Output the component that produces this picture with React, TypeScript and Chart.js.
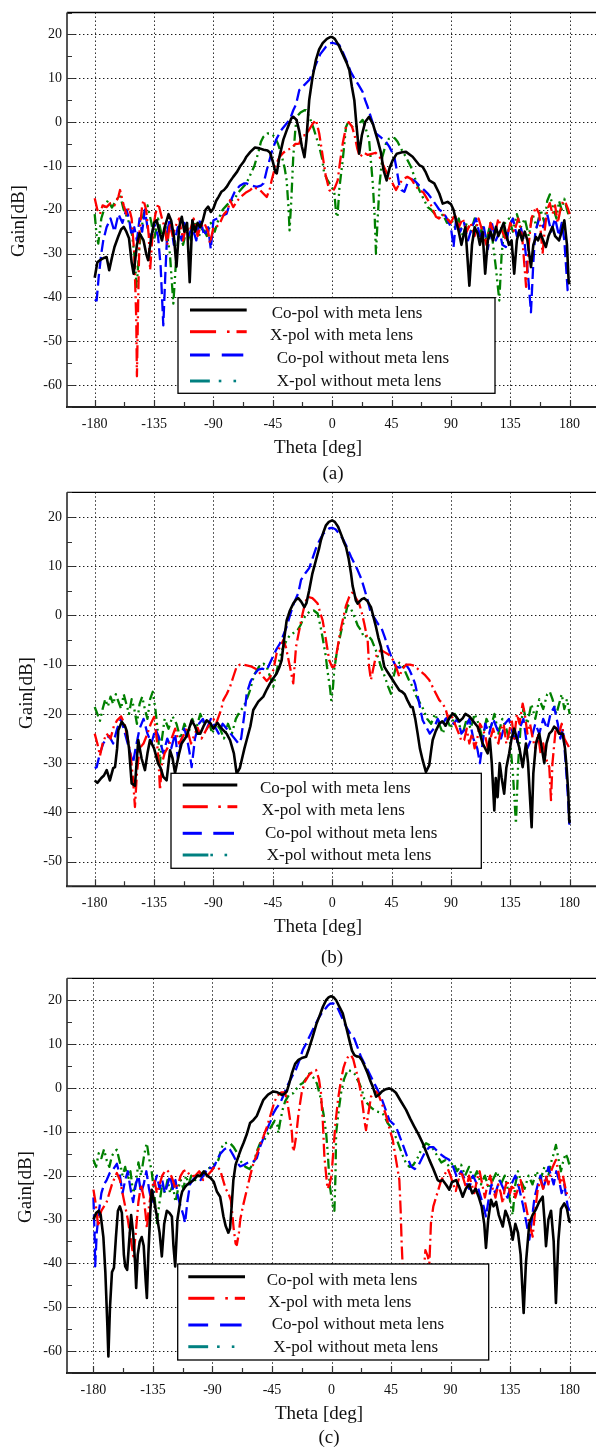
import React, { useEffect, useRef } from 'react';
import { Chart, registerables } from 'chart.js';

Chart.register(...registerables);

type P = [number, number][];

const X_TICKS = [-180, -135, -90, -45, 0, 45, 90, 135, 180];
const Y_TICKS_AC = [-60, -50, -40, -30, -20, -10, 0, 10, 20];
const Y_TICKS_B = [-50, -40, -30, -20, -10, 0, 10, 20];
const LEGEND_LABELS = ['Co-pol with meta lens', 'X-pol with meta lens', ' Co-pol without meta lens', 'X-pol without meta lens'];
const X_TITLE = 'Theta [deg]';
const Y_TITLE = 'Gain[dB]';

// ---------- Panel (a) ----------
const A_CO_WITH: P = [[-180,-35.5],[-178,-32],[-176,-31.5],[-173,-31],[-171,-30.8],[-169,-33.8],[-167,-31],[-165,-28.5],[-162,-26],[-160,-24.5],[-158,-23.9],[-156,-25],[-154,-26.5],[-152,-32],[-150.5,-34.6],[-148,-28],[-146,-25.4],[-143,-27],[-141,-30],[-139.5,-31.5],[-137,-26],[-135,-23],[-133,-22.4],[-131,-25],[-129,-27],[-127,-24],[-124,-21],[-122,-22.5],[-120,-26],[-118,-33],[-116,-24],[-114,-21.6],[-112,-25],[-110,-23],[-108,-36.5],[-106,-22.4],[-104,-25],[-102,-23],[-100,-24],[-98,-22.4],[-96,-20],[-94,-19.3],[-92,-20.5],[-90,-19.7],[-88,-18],[-86,-17],[-84,-15.9],[-82,-15.5],[-80,-14.8],[-78,-13.8],[-75,-12.5],[-72,-11.3],[-70,-10.2],[-67,-9],[-65,-7.9],[-62,-6.8],[-58.5,-5.8],[-55,-6],[-52,-6.3],[-49,-6.5],[-47,-7],[-45,-9],[-43,-11.5],[-42,-11.7],[-40,-8],[-37,-4],[-34,-1.5],[-31,0.8],[-29.5,1.2],[-27,0.5],[-25,-2],[-23,-5.5],[-21,-8],[-19.5,-4],[-17.4,5],[-15,10],[-12.3,14.2],[-10,16.5],[-7.2,18],[-4,19],[-1.5,19.4],[0,19.4],[2,19],[5,17.5],[8,15.5],[11,13.5],[13,11.9],[15,8],[16.8,5],[18.5,-1],[20.5,-7.2],[22.5,-3],[25,0],[28,1.2],[31,-0.5],[34.5,-4.1],[37,-7],[39,-11],[41.3,-13.3],[43.5,-10.5],[45.9,-8.7],[49,-7.2],[53,-6.9],[56,-6.8],[61,-7.9],[66,-9.8],[68.6,-10.2],[71,-11.5],[73.6,-13.3],[77.4,-14],[81.2,-16.3],[83.8,-18.6],[87.5,-18.2],[90,-18.7],[92,-20],[93.8,-22.4],[96,-25],[98,-28],[101,-24],[104,-37.3],[106,-28],[108,-24],[110.3,-25.4],[112,-28],[114,-25],[116,-34.6],[118,-27],[120,-25],[122,-27],[124.2,-23.9],[126,-26],[128,-24.5],[130,-23],[131.7,-25.4],[134,-28],[136,-27],[138,-34.6],[140,-27],[141.8,-24.7],[144,-27],[146,-25],[148,-27],[150.7,-33.1],[152.5,-28],[154.5,-26.2],[156,-27],[158,-25.5],[160,-27],[162,-28.5],[164,-26],[167,-23.9],[169,-26],[172,-27],[174,-25],[176,-22.4],[178,-28],[179.3,-36.5],[180,-37]];
const A_X_WITH: P = [[-180,-17.4],[-178,-20],[-176,-21],[-174,-19],[-171,-19.4],[-168,-18.5],[-165,-19],[-162,-17],[-160.8,-15.5],[-158,-19],[-156,-21],[-154,-19.5],[-152,-22],[-150,-30],[-148.5,-45],[-148,-58],[-147,-40],[-146,-25],[-144,-19],[-143,-17.8],[-141,-20],[-139,-26],[-138,-33.8],[-136,-25],[-134,-21],[-131.8,-18.6],[-129,-22],[-127,-24],[-125,-28],[-123,-23],[-121,-26],[-119,-24],[-116,-22],[-113,-27],[-111,-24],[-108,-25],[-105,-22],[-102,-26],[-100,-24],[-97,-23],[-94,-25],[-92.6,-27.7],[-90,-24],[-88,-24],[-85,-23],[-82,-21],[-79,-20],[-77.4,-17.8],[-75,-19.4],[-72,-18],[-69,-17],[-65,-16],[-62,-15.5],[-59.8,-14.8],[-57,-15.2],[-54.7,-15.5],[-52.2,-16.3],[-49.6,-17.1],[-47,-15],[-45.9,-13.3],[-43,-10],[-40,-8],[-37,-7],[-34.5,-6.4],[-31,-6],[-28,-5],[-25,-4.9],[-22.6,-3],[-20,-3],[-18,-2],[-15,-0.5],[-12.3,0.5],[-9.8,-2.6],[-7.2,-7.7],[-5,-12],[-2.2,-15.5],[0,-16],[2,-15],[4.2,-13.3],[6,-9],[8,-4.9],[10.5,-1.1],[12.5,0],[15,-1],[17,-3],[19,-6],[21,-8],[24,-7],[27,-7.5],[30.7,-7.2],[33,-7],[36,-8],[39,-10],[42,-12],[45,-13.5],[48.4,-15.5],[51,-14],[54,-13],[57,-12.5],[60,-13],[63,-14.5],[66,-15.5],[69,-16],[72,-17.5],[75,-19],[78.7,-21.6],[81,-22],[84,-21],[87,-22],[90,-23],[93,-21],[96,-24],[99,-22],[102,-25],[105,-23],[108,-26],[111,-22],[114,-25],[117,-28],[120,-23],[123,-26],[126,-22],[129,-25],[132,-27],[135,-23],[138,-25],[141,-22],[144,-26],[147,-37.6],[149,-28],[151,-22],[154.5,-19.4],[157,-21],[159.5,-30],[161,-25],[163,-20],[165,-18.5],[167,-21],[169,-19],[171,-23],[173,-20],[175,-18],[177.2,-18.6],[179,-20],[180,-21]];
const A_CO_WITHOUT: P = [[-180,-40.5],[-178.5,-40.7],[-177,-35.4],[-175,-30],[-173.5,-27],[-171,-24],[-168,-22],[-165,-25],[-162,-21],[-159,-23],[-156,-20],[-154,-22],[-152,-26],[-150,-24],[-148,-27],[-146,-22],[-144,-25],[-142,-20],[-140,-24],[-137,-27],[-135,-23],[-132,-26],[-130,-33],[-128,-46.4],[-126.5,-35],[-125,-25],[-123,-22],[-120,-28],[-117,-24],[-114,-27],[-112,-23],[-109,-26],[-106,-24],[-103,-27],[-100,-22],[-97,-26],[-94,-24],[-92,-29],[-90,-22.4],[-87,-22],[-84,-21.5],[-80,-20.9],[-77,-18],[-74,-16],[-70,-14.5],[-67,-14],[-64.8,-14],[-61,-14.5],[-57.2,-14.8],[-54,-14.5],[-52,-14],[-49.6,-11],[-46,-7],[-42.6,-4.1],[-39,-2],[-35,-0.5],[-32,0.6],[-29.5,2.7],[-27.4,4],[-24.9,7.3],[-21,8.5],[-17.4,9.6],[-15,11],[-12.3,13.2],[-9,15.5],[-4.7,17.2],[-2,17.9],[0,18.1],[2.5,17.9],[5.4,17.6],[8,16],[11.7,13.4],[14,11.5],[16.8,10],[20,8.5],[23.1,6.9],[25,5],[26.9,3.5],[30,0.5],[33.2,-2.6],[37,-3.5],[40.8,-4.5],[43.3,-5.6],[47.1,-7.9],[49,-11],[50.9,-14.4],[52.5,-15.5],[54.7,-15.9],[57,-14],[60,-13],[63,-13.5],[66,-14.5],[69.8,-15.5],[73,-16.5],[76.2,-17.8],[79,-19],[81.2,-20],[84,-20.5],[87,-22],[90,-24],[92,-28.5],[94,-22],[97,-25],[100,-23],[103,-27],[106,-24],[109,-22],[112,-26],[115,-24],[118,-29],[121,-23],[124,-27],[127,-25],[129,-28],[131.7,-28.5],[134,-24],[137,-22],[140,-26],[143,-24],[146,-28],[148.5,-35],[150.7,-43.4],[152.5,-32],[154,-25],[157,-22],[160,-24],[163,-21],[166,-25],[169,-22],[172,-26],[174,-23],[176,-27],[178.5,-38.4],[180,-39]];
const A_X_WITHOUT: P = [[-180,-21],[-178.5,-26],[-177.3,-27.7],[-175,-22],[-172,-19],[-169.8,-17.8],[-167,-19.5],[-164,-18],[-160.8,-16.7],[-158,-20],[-155,-22],[-152,-25],[-150,-30],[-148.2,-37.6],[-146,-28],[-143,-21],[-140,-19],[-137,-23],[-135,-27],[-132,-22],[-129,-26],[-126,-24],[-123,-30],[-120.4,-41.4],[-118,-30],[-116,-25],[-113,-28],[-110,-24],[-107,-27],[-104,-23],[-101,-26],[-98,-24],[-95,-26],[-92,-23],[-89,-25],[-86,-22],[-83,-20],[-80,-19],[-77,-18],[-74,-17.5],[-71,-16],[-68,-15],[-65,-14],[-62,-12],[-59,-10],[-56,-7],[-54,-4.5],[-52.2,-3.4],[-49,-2.6],[-47.1,-2.6],[-45,-3],[-43.4,-3.4],[-41,-5],[-38,-8],[-36,-10.5],[-34.5,-13.3],[-33,-20],[-32.3,-24.7],[-31,-18],[-29.5,-8],[-28,-2],[-26.9,1.2],[-24,2.2],[-21,2.7],[-19.8,2.7],[-17,1],[-14,-1.5],[-12,-3.5],[-9.8,-5.6],[-7.5,-8.5],[-6.2,-11.4],[-4,-13],[-2,-14],[0,-15],[1.6,-15.9],[3,-20.8],[4,-21.7],[5.5,-15],[8,-8.7],[10.5,-1.1],[11.7,-0.3],[14,-0.8],[17,-1.5],[20,-0.5],[23.1,0.5],[25.5,-1.5],[28,-4.1],[30.8,-14],[32.3,-22],[33.2,-30],[34.5,-22],[36,-14],[38,-8],[40.8,-4.9],[43,-3.8],[45.9,-3.5],[47.5,-3.7],[49.6,-4.5],[53,-6.5],[56,-8],[59.7,-10.2],[63,-13],[66,-15.5],[68.6,-17.1],[72.4,-19.4],[75,-20],[78,-21],[81,-22],[84,-21],[87,-23],[90,-22],[93,-24],[96,-22],[99,-26],[102,-23],[105,-25],[108,-22],[111,-26],[114,-24],[117,-27],[120,-23],[122,-28],[124,-33],[126.7,-40.7],[128.5,-30],[131,-23],[134,-22],[137,-25],[140,-21],[143,-24],[146,-22],[149,-26],[152,-21],[155,-24],[158,-20],[161,-23],[163,-18],[165,-16.5],[167,-19],[170,-22],[172,-18],[174,-20],[176,-17.5],[178,-20],[180,-22]];

// ---------- Panel (b) ----------
const B_CO_WITH: P = [[-180,-33.5],[-178,-34],[-175,-33],[-173,-32.5],[-170.9,-31.4],[-168.5,-33.5],[-166,-31],[-164.6,-30.8],[-163,-27],[-162.1,-23.3],[-159.5,-21.6],[-157,-22.5],[-155.7,-23.5],[-154,-27],[-152,-34.1],[-149.5,-34.6],[-147,-25.3],[-144.5,-29],[-141.9,-31.4],[-140,-28],[-138.1,-25.3],[-135,-27],[-132,-30],[-130,-31],[-128,-32.8],[-125.5,-33.5],[-122.9,-27.4],[-121,-29],[-119.1,-32],[-116,-28],[-114.1,-26],[-110.3,-24.5],[-106.5,-21.3],[-104,-22.5],[-102,-24],[-100,-24],[-97.5,-22.5],[-95.1,-21.3],[-92,-22],[-90,-23],[-87,-21.8],[-83.7,-23],[-80,-24],[-77.4,-25.3],[-74.5,-28],[-72.4,-32.1],[-70,-31],[-68.6,-29.4],[-66.5,-27],[-64.8,-25.3],[-62,-22.5],[-59.8,-19.2],[-56,-17.5],[-52.2,-16.5],[-49.5,-15],[-47.1,-13.8],[-44.5,-12.7],[-42.1,-11.8],[-40,-10.5],[-38.3,-9.1],[-36.5,-5],[-34.5,-1],[-32,1],[-29.5,2.4],[-27.4,3.2],[-25.7,3.5],[-23.5,2.8],[-21.1,1.7],[-19.5,2.5],[-17.4,5.1],[-15,8.5],[-12.3,11.2],[-10,13.5],[-8.5,15.3],[-6.5,17],[-4.7,18.3],[-2.5,19],[0,19.3],[2,19],[4.5,18],[7,16.3],[9,14.8],[10.5,13.9],[12.5,11.5],[14.3,8.5],[15.5,6],[16.8,4.5],[18,3],[19.3,2.4],[21,2.9],[22.5,3.3],[24.3,3.5],[26.5,3],[29.4,1.7],[31,0],[33.2,-2.3],[35,-4.5],[37,-6.4],[38.5,-9],[39.5,-10.4],[42,-11.5],[45.9,-13.1],[48,-14],[50.9,-15.2],[53,-15.5],[55,-16],[57,-17.2],[59.7,-18.6],[61,-18.6],[63,-21],[64.8,-24],[66.5,-27],[68.6,-29.4],[71.1,-31.8],[73.6,-30.4],[75,-27.5],[76.2,-25.3],[78.5,-23.5],[81.2,-22],[83.5,-21.5],[86,-22.4],[88.5,-21],[91.3,-19.9],[94,-20.5],[96.5,-21.5],[98.9,-20.9],[101,-20],[104,-20.5],[107,-21.5],[110.3,-22.6],[112,-24],[114,-26],[116,-27],[117.9,-28],[119.5,-25],[121,-30],[122.9,-39.6],[124,-33],[125.4,-36.9],[127,-30],[128.5,-33],[130.4,-36.2],[132,-31],[134.2,-28],[136,-25],[138,-23],[140,-25],[142,-27],[144.4,-30.8],[146.9,-26],[148.5,-30],[151.2,-43],[152.5,-32],[154.5,-26],[157,-24],[159,-27],[160.8,-30],[162.5,-26],[164.6,-24],[166.5,-23.5],[168.3,-22.6],[170,-23],[172,-24],[174.7,-24],[176.5,-27],[177.7,-30.8],[179,-36],[179.7,-41.6],[180,-42]];
const B_X_WITH: P = [[-180,-24],[-178,-26],[-176,-28.5],[-174,-26],[-171,-24],[-168,-25],[-165.5,-22.5],[-163,-21.3],[-160,-20.5],[-157.5,-22],[-155,-25],[-153,-28],[-151,-33],[-149.5,-38.9],[-148,-32],[-146,-27],[-143,-26],[-140,-24],[-137.5,-22],[-135,-20.6],[-133,-25],[-131.5,-30],[-130.5,-35.5],[-129,-30],[-127,-28],[-125,-27],[-122.4,-25.5],[-119,-23],[-116,-26],[-113,-24.5],[-110,-23],[-107,-26],[-104,-24],[-102,-22.8],[-99,-25],[-97,-24],[-95,-23],[-92.5,-22],[-90,-21],[-88,-22],[-86,-20.5],[-84,-19],[-82.5,-17.2],[-80,-16],[-77.4,-14.5],[-75,-12.5],[-72.4,-10.4],[-70,-10],[-67,-10],[-64,-10.2],[-61,-10.4],[-57,-11],[-54.5,-11.8],[-52.2,-12.5],[-49.6,-13.3],[-47,-12.5],[-44.6,-11.1],[-42.1,-7.7],[-39.6,-6.4],[-37,-5],[-35,-6.5],[-33.5,-8.5],[-32,-10.4],[-29.5,-13.8],[-27.4,-6.4],[-25.7,-4],[-22.4,0.4],[-20.5,2.5],[-18.6,3.8],[-15,3.5],[-13,3],[-11,2.4],[-9,0.5],[-7.2,-1],[-4.7,-5],[-2.2,-9.1],[0,-10.5],[1.6,-10.4],[4.2,-6.4],[6,-3.5],[8,-1],[10.5,2],[13,3.8],[15,4.6],[16,4.5],[18,3.5],[20.5,2.4],[22.5,0.5],[24.3,-1.6],[26.9,-5],[28,-10.4],[29.4,-13.1],[31,-11],[33,-8.5],[34.5,-7.7],[37,-7],[40,-7.5],[43,-8],[46,-9],[48.5,-10.5],[50.9,-12.5],[53,-11],[56,-10],[59,-10],[62,-10.2],[66,-11.1],[70,-12],[73.6,-13.1],[77,-15],[81.2,-17.2],[83.8,-17.9],[86,-19],[88,-21],[90,-20],[93,-22],[96,-24],[98,-25.5],[100.1,-25.3],[102,-23],[104,-26],[106,-24],[108,-27],[110,-25],[112,-22],[114,-23],[116,-24.4],[118,-27],[120,-25],[122,-23],[124,-25],[126,-26],[128,-23],[130,-22],[132,-26],[134,-24],[136,-21],[138,-25],[140,-20],[142,-22],[144.4,-17.9],[146,-20],[148,-24],[150,-22],[152,-25],[154,-27],[156,-24],[158,-28],[160,-26],[162,-29],[164.6,-30.8],[165.9,-37.5],[167,-30],[169.6,-22.6],[172,-24],[174,-22],[176,-25],[178,-26],[180,-27]];
const B_CO_WITHOUT: P = [[-180,-31],[-178.5,-30.8],[-176,-28],[-173.5,-26],[-171,-25],[-169,-24.5],[-166,-26],[-163,-23],[-160,-21],[-157,-24],[-155,-26],[-153,-28],[-151,-30],[-149,-27],[-146,-23],[-143,-21],[-140,-24],[-137,-26],[-134,-23],[-131,-25],[-128,-28],[-125,-25],[-122,-27],[-119,-24],[-117,-29],[-115,-26],[-112,-23],[-110,-25],[-108,-28],[-106.5,-30.8],[-104,-25],[-101,-22],[-98,-21],[-95,-23],[-92,-21],[-89,-22.5],[-86,-24],[-83,-22],[-80,-23],[-77,-24],[-74,-25],[-71,-26],[-69,-25],[-67,-21],[-66,-19],[-64.8,-15.9],[-62,-13.5],[-59,-12],[-56,-11],[-53,-10.8],[-49.6,-11.1],[-46,-9],[-42.5,-7],[-39.6,-5.7],[-37,-4],[-34.5,-2.3],[-32,0],[-29,2.5],[-25.7,4.5],[-23.6,7.2],[-20.5,8.5],[-17.4,9.6],[-15,11.5],[-12.3,13.6],[-10,15],[-7,16.5],[-4,17.3],[-2,17.7],[0,17.8],[2.5,17.5],[5,16.7],[8,15.6],[11,14],[14.3,11.9],[17,10.5],[19.3,9.2],[22,7.5],[24.3,5.5],[27,3],[29.4,0.4],[32,-0.5],[35,-1.8],[37,-2.3],[40,-4.5],[42.1,-6.4],[45,-8.5],[48.4,-10.4],[51,-10.6],[53.4,-10.4],[56,-10],[58.5,-11],[61,-12.5],[63,-14],[66,-17.9],[68.6,-21.3],[71,-22.5],[74,-24],[77,-23],[80,-21],[83,-22.5],[86,-21],[89,-20.5],[92,-22],[95,-21],[98,-24],[101,-23],[104,-21],[107,-25],[110,-27],[112,-30],[114,-26],[116,-22],[119,-24],[122,-21],[125,-23],[128,-25],[131,-22],[134,-21],[137,-24],[140,-26],[142,-23],[145,-21],[148,-27],[151,-25],[154,-22],[157,-24],[160,-21],[163,-23],[165.5,-20],[168.3,-18.6],[171,-22],[173,-25],[175,-23],[177,-30],[179,-38],[179.7,-42.3],[180,-42]];
const B_X_WITHOUT: P = [[-180,-18.6],[-178,-20],[-176,-21.4],[-174,-19],[-172,-17],[-170,-18.5],[-168,-16.5],[-166,-18],[-164,-16],[-162,-17.5],[-160,-19],[-158,-16],[-156,-18],[-154,-20],[-152,-17],[-150,-19],[-148,-22],[-146,-18],[-144,-16.5],[-142,-19],[-140,-21],[-138,-17],[-136,-15.5],[-134,-19],[-132,-24],[-130.5,-30.1],[-129,-25],[-127,-21],[-124,-23],[-121,-20.5],[-118,-22],[-115,-25],[-112,-22],[-109,-24],[-106,-21],[-103,-23],[-100,-20],[-97,-22],[-94,-21],[-91,-24],[-88,-22],[-85,-23],[-82,-25],[-79,-22],[-76,-24],[-73,-21],[-70,-19.5],[-67,-18.5],[-64,-16.5],[-62.3,-15.2],[-59,-12],[-55,-10.2],[-52,-9.8],[-49.6,-10.4],[-47,-12.5],[-44.6,-14.5],[-41,-10],[-38,-7],[-34.5,-5],[-32,-4],[-29,-3.5],[-26.2,-3],[-24,-2],[-22.4,-1],[-20,0],[-17,0.8],[-14,1],[-11,0.4],[-9,-2],[-7.2,-4.6],[-5,-8],[-3.4,-11.5],[-1.5,-15],[-0.7,-17.2],[0.5,-15],[1.6,-11],[3.5,-7.5],[5.4,-5],[7,-3],[9.1,-1],[11.7,2.1],[14,1.5],[16.5,0],[19.3,-2],[21.8,-3],[24.3,-4.5],[27,-4],[30,-5],[33,-7],[37,-10.4],[40,-12.5],[42.5,-14.5],[44.6,-15.9],[46.5,-12.5],[48.4,-10.4],[50.9,-9.6],[53,-10],[55.5,-11.5],[58,-13],[61,-14.5],[63,-16],[66,-17.5],[69,-19],[72,-21],[75,-22],[78,-20],[81,-22],[84,-24],[87,-21],[90,-23],[93,-20],[96,-22],[99,-24],[102,-21],[105,-23],[108,-20],[111,-22],[114,-25],[117,-21],[120,-23],[123,-20],[126,-24],[129,-21],[132,-23],[135,-26],[137,-32],[139.3,-42.3],[141,-30],[143,-22],[145,-19],[148,-22],[151,-18],[154,-21],[157,-17],[160,-19],[163,-16],[165,-15.5],[167,-17],[170,-20],[172,-18],[174,-16],[176,-19],[178,-17],[180,-20]];

// ---------- Panel (c) ----------
const C_CO_WITH: P = [[-180,-30],[-178,-28.5],[-176,-28],[-174.5,-29],[-172.5,-34],[-171,-42],[-169.5,-54],[-168.7,-61.2],[-167.5,-50],[-166,-42],[-164.5,-41],[-163,-34],[-161.5,-28],[-160,-27],[-158.5,-28.5],[-157,-38],[-156,-40.7],[-154.5,-41.5],[-153,-35],[-151.5,-29],[-150,-33],[-148.5,-40],[-147.7,-45.6],[-146.5,-38],[-145,-35],[-143.5,-34],[-142,-36],[-140.5,-44],[-139.6,-47.9],[-138.5,-38],[-137,-28],[-135.9,-23.2],[-134,-26],[-132,-29.3],[-130,-33],[-128.3,-38.4],[-126.5,-31],[-124.5,-28],[-122.5,-28.5],[-120.7,-29.3],[-119.5,-36],[-118.2,-40.7],[-116.5,-30],[-114,-25],[-112.9,-23.6],[-110.5,-22.5],[-109,-22],[-106.5,-21.5],[-104,-21],[-101.5,-20],[-99,-20.1],[-96.5,-19],[-94,-20],[-91.5,-20.5],[-89,-21.4],[-86.7,-23.6],[-84.2,-24.8],[-81.7,-29.3],[-80,-31.5],[-78,-33],[-76.7,-32],[-75.5,-27],[-74.2,-21],[-72.5,-17.5],[-70.4,-15.6],[-68.5,-14],[-66.6,-12.6],[-64,-10.5],[-61.6,-8],[-59,-7.3],[-56.5,-6.4],[-54,-4.5],[-51.5,-2.7],[-48,-1.5],[-44,-0.8],[-41,-1],[-39,-1.3],[-37.6,-1.6],[-35.5,-1.3],[-33.8,-0.8],[-32,1],[-30,3.3],[-27.5,5.5],[-25,6.4],[-22.5,6.8],[-19.2,7.1],[-17,9],[-14.2,11.7],[-11.5,14.5],[-9.3,16.2],[-6.5,18.5],[-4.1,20],[-2,20.7],[-0.3,20.9],[1.5,20.7],[3.5,20],[6,18.5],[8.5,17],[11,14],[13.5,10.9],[15.5,8.5],[17.3,7.5],[19,7.2],[21,7.1],[23,6.3],[25,5],[27.4,3.3],[29.5,1.5],[31.2,0.3],[33.7,-2],[36,-1.5],[38.2,-0.8],[41,-0.3],[43.7,-0.1],[46,-0.4],[48.7,-1.1],[52,-2.8],[56.4,-5],[59.5,-7],[62.6,-8.8],[66,-10.7],[69,-12.6],[71.5,-14.5],[74,-16.4],[77,-18.5],[80.3,-21],[82,-21.3],[84,-21],[86.5,-22],[89.1,-23.2],[91,-21.5],[94.2,-21],[96.5,-22.5],[99.2,-24.8],[101.5,-23],[104,-22],[106.5,-24],[109,-23],[111.5,-25],[113.5,-27],[115.5,-31],[116.8,-36.5],[118.5,-30],[120.6,-25.5],[122.5,-27],[124.5,-26],[126.5,-29],[129.5,-31.6],[131.5,-28],[133.5,-29.5],[135.5,-32],[137,-34.6],[139,-31],[141,-33],[143,-38],[145.3,-51.3],[147,-40],[149.6,-30.8],[152,-29],[154.7,-27.6],[157,-26],[159.7,-24.8],[161,-30],[162.2,-36.1],[164,-30],[166,-28],[168,-35],[169.7,-49],[171.5,-35],[173.5,-27.6],[176,-26.3],[178,-27.5],[179.8,-30.4],[180,-30.5]];
const C_X_WITH: P = [[-180,-23.2],[-178.5,-26],[-177,-30],[-176.2,-31.6],[-175,-29],[-174,-28],[-172,-27],[-170,-26],[-168,-24],[-166,-22],[-164,-20.5],[-162.3,-19.4],[-160,-21],[-158,-24],[-156,-27],[-154,-30],[-152,-34],[-150.5,-37],[-149.8,-38.4],[-148,-33],[-146,-26],[-144,-22],[-142,-25],[-140.5,-29],[-139.6,-32],[-138,-27],[-136,-23],[-134,-21],[-132,-24],[-130,-22],[-128,-20],[-126,-19],[-124.5,-18.7],[-122,-19.5],[-120,-21],[-118,-23],[-116,-22],[-114,-20],[-112,-19],[-110,-18.7],[-108,-19.5],[-106,-20.2],[-103,-20],[-100,-19],[-97,-21],[-94,-20],[-91,-19],[-89,-18.2],[-86.5,-18],[-84.2,-18.7],[-82,-21],[-80,-23],[-78,-24],[-76,-25.7],[-74,-32],[-72.5,-35.5],[-71.6,-35.8],[-70,-33],[-69,-30],[-67,-27],[-64,-23.2],[-61.5,-20],[-59,-17.2],[-57,-15.5],[-55.3,-14.1],[-53.5,-12.5],[-51.5,-11.1],[-49,-9],[-46.4,-6.5],[-43,-3],[-40,-1.5],[-38,-1],[-36,-1],[-35,-1.2],[-33.5,-3],[-31.3,-7.3],[-30,-10],[-29,-14.5],[-28,-13.5],[-26.8,-11.1],[-25,-6],[-22.5,-1],[-20,1.5],[-17,3],[-14,3.8],[-11.7,4.1],[-9.5,2],[-8,-1],[-6.5,-8],[-5.4,-15.6],[-4,-20],[-3,-23],[-1.5,-22],[0,-20],[1.5,-14],[3,-8],[5,-2.5],[7,1.5],[9,4.5],[11,6.4],[13,7.3],[14.8,7.5],[16.5,6.5],[18.5,4],[19.9,2.6],[22.4,-1.4],[24,-5],[24.8,-7.3],[26.1,-9.6],[27.5,-6.5],[29.9,-2],[32,-1],[33.7,-0.8],[35.5,-1.5],[38,-3.5],[41,-6],[44,-9.5],[46.3,-11.8],[48.8,-16.4],[51.3,-21],[52.3,-28],[53,-35],[54,-42],[56,-50],[60,-55],[64,-53],[67,-48],[69.5,-43],[71,-37],[72.8,-38.4],[74,-40],[75.2,-30.8],[77,-27],[79,-25],[81,-23],[83,-21],[86,-19.5],[88,-18.5],[90,-20],[92,-22],[94,-23.5],[96,-21],[98,-19],[100,-21],[102,-23],[104,-20],[106,-22],[108,-24],[110,-21],[112,-19],[114,-22],[116,-25],[118,-22],[120,-20],[122,-23],[124,-25],[126,-22],[128,-24],[129.5,-26.3],[131,-23],[133,-21],[135,-24],[137,-22],[139,-25],[141,-23],[143,-21],[145,-24],[147,-27],[149,-30],[150.5,-32],[152.1,-33.9],[154,-28],[156,-23],[158,-21],[160,-23],[162,-20],[164,-22],[166,-19],[168,-17.5],[169.7,-16.4],[171.5,-19],[173,-22],[175,-20],[177,-23],[178.6,-24.8],[180,-25]];
const C_CO_WITHOUT: P = [[-180,-25],[-179,-35],[-178.7,-40.7],[-177.5,-33],[-176,-28.5],[-174,-24],[-172,-22],[-170,-21],[-167.7,-19.4],[-165,-18.5],[-162.3,-17.3],[-160,-20],[-158,-24],[-156,-21],[-154,-19],[-152,-23],[-150,-26],[-148,-22],[-146,-20],[-144,-24],[-142,-22],[-140,-19],[-138,-23],[-136,-26],[-134,-22],[-132,-20],[-130,-23],[-128,-21],[-126,-24],[-124,-22],[-122,-20],[-120,-23],[-118,-21],[-116,-25],[-114,-27],[-112,-29],[-110.7,-30.8],[-109,-26],[-107,-22],[-105,-21],[-102,-20],[-99,-21],[-96,-19.5],[-93,-18],[-90,-18.5],[-88,-17.5],[-86.7,-16.4],[-84,-15],[-81,-14],[-78.5,-13.5],[-76.7,-14.1],[-74,-15.5],[-71.5,-17],[-69,-17.9],[-66,-17.5],[-63,-17],[-60,-17],[-58,-16.5],[-56.5,-16],[-54,-13.4],[-51.5,-11.5],[-49,-9.6],[-46,-7.5],[-44,-5.8],[-41.5,-4.5],[-38.9,-3.5],[-36,-1.5],[-33.8,0.3],[-30,2.5],[-26.5,4.5],[-24,6.5],[-21.7,8.7],[-19,10.2],[-16.7,11.7],[-13,14],[-10,15.8],[-7.5,17],[-5.4,17.8],[-3,18.7],[-1,19.2],[1,19.3],[3,19],[5,18],[8,16],[11,14],[14,12.5],[17.3,11.2],[20,9],[22.3,7.1],[25,5.5],[27.4,4.1],[30,2.5],[32.3,1.1],[35,-0.5],[38,-2.5],[41,-5],[43.7,-7.3],[46,-8],[48.7,-8.8],[51.5,-11],[54,-13],[57,-15.5],[60.1,-17.9],[63,-18.5],[66,-17.5],[68.5,-16],[71,-14.5],[74,-13.5],[77,-13.5],[79,-14.1],[82,-15],[85.5,-15.8],[89,-16.4],[92,-18],[95,-20.5],[98,-19],[101,-21],[104,-23],[107,-20],[110,-22],[113,-25],[115,-27],[116.8,-29.3],[118.5,-26],[121,-22],[124,-24],[127,-21],[130,-23],[133,-25],[136,-22],[139,-20],[142,-23],[145,-27],[147.5,-31],[149.6,-34.6],[151.5,-30],[153.5,-25],[156,-22],[158,-20],[160,-23],[162,-21],[164,-18],[166,-20],[168,-22],[170,-19],[172,-21],[174,-24],[176,-22],[178.6,-27],[180,-28]];
const C_X_WITHOUT: P = [[-180,-16.4],[-178,-18],[-176,-14.9],[-174,-16],[-172,-14],[-170,-16.5],[-168,-18],[-166,-15.5],[-164,-14.5],[-162.3,-14.1],[-160,-17],[-158,-20],[-156,-18],[-154,-21],[-152,-19],[-150,-24],[-148,-22],[-146,-17],[-144,-20],[-142,-16],[-140.5,-13.5],[-139.6,-12.6],[-138,-16],[-136,-19],[-134,-24],[-132.1,-30.8],[-130,-26],[-128,-22],[-126,-24],[-124,-21],[-122,-24],[-120,-22],[-118,-26],[-116,-23],[-114,-21],[-112,-23],[-110,-20],[-108,-22],[-106,-20],[-103,-21],[-100,-19],[-97,-20],[-94,-18.5],[-91,-18],[-90,-17.8],[-87.5,-17],[-85.5,-16.4],[-83.5,-14],[-81.7,-12.7],[-79,-12.5],[-76.7,-12.6],[-74,-13.5],[-71,-15],[-68,-17],[-65,-18],[-62,-18.5],[-59,-17.2],[-56.5,-14.5],[-54,-12.6],[-51.5,-12],[-49,-11.1],[-46,-9],[-43,-7.5],[-41,-8.5],[-40.2,-10.3],[-39,-8],[-37,-5],[-35,-3],[-32,-1.5],[-28.8,-1.2],[-26,0],[-23.5,0.8],[-21.7,1.1],[-19,2.2],[-16.7,3.3],[-14,2.5],[-11,1],[-8.5,-2],[-6,-6],[-4,-10.5],[-2.8,-14.9],[-1.4,-22],[0,-25],[1,-27],[2.2,-28],[3,-20],[3.5,-10.3],[5.5,-5],[7.2,-1.2],[9.5,2],[12.3,4.1],[15,3.8],[17.3,3.3],[19,2.2],[21,1.1],[23,-0.5],[24.8,-2.5],[27,-3.5],[30,-4.5],[33.5,-5.3],[36,-5.5],[38.7,-5.8],[40.5,-6.8],[42.4,-8],[44.5,-8.8],[46.3,-9.6],[49,-11.5],[51.3,-13.4],[54,-15.5],[56.4,-17.2],[59,-18],[62,-17.5],[65,-16],[68,-14],[71.5,-12.6],[74,-13],[77,-14],[80,-15.5],[83,-17],[86,-16.5],[89,-18],[92,-17],[95,-19],[98,-17.5],[101,-20],[104,-18],[107,-21],[110,-19],[113,-22],[116,-20],[119,-23],[122,-21],[125,-19],[128,-22],[131,-20],[134,-24],[137,-29],[139,-22],[141,-19],[143,-21],[146,-23],[149,-20],[152,-22],[155,-19],[158,-21],[161,-18],[164,-20],[166,-17],[168,-15],[169.7,-13],[171.5,-16],[173.5,-19],[175,-17],[177,-15],[178.5,-16],[179.8,-17.5],[180,-17.5]];

const SERIF = '"Liberation Serif", "Times New Roman", "DejaVu Serif", serif';

type Legend = { box: number[]; x0: number; x1: number; lineY: number[]; textX: number[]; textY: number[]; tealDash: number };
type Cfg = {
  name: string; top: number; h: number; padTop: number; bottom: number; left: number;
  xMin: number; xMax: number; yMin: number; yMax: number; yTicks: number[];
  yTitle: number[]; xTitle: number[]; caption: string; capPos: number[];
  legend: Legend; series: P[];
};

const STYLES = [
  { color: '#000000', width: 2.6, dash: [] as number[] },
  { color: '#ff0000', width: 2.3, dash: [13, 4, 2, 4] },
  { color: '#0000ff', width: 2.3, dash: [12, 5] },
  { color: '#008000', width: 2.3, dash: [10, 4, 2, 4, 2, 4] },
];

const PANELS: Cfg[] = [
  {
    name: 'a', top: 0, h: 487, padTop: 12.5, bottom: 407, left: 67,
    xMin: -201, xMax: 200, yMin: -65, yMax: 25, yTicks: Y_TICKS_AC,
    yTitle: [19, 221], xTitle: [318, 448.5], caption: '(a)', capPos: [333, 474],
    legend: { box: [178, 297.7, 495, 393.3], x0: 190, x1: 246.7, lineY: [310, 331.7, 355, 381], textX: [271.7, 270, 276.7, 276.7], textY: [318, 340, 363.3, 385.7], tealDash: 0.35 },
    series: [A_CO_WITH, A_X_WITH, A_CO_WITHOUT, A_X_WITHOUT],
  },
  {
    name: 'b', top: 487, h: 483, padTop: 5.3, bottom: 399.3, left: 67,
    xMin: -201, xMax: 200, yMin: -55, yMax: 25, yTicks: Y_TICKS_B,
    yTitle: [27, 206], xTitle: [318, 440.5], caption: '(b)', capPos: [332, 471],
    legend: { box: [171, 286.3, 481.3, 381.3], x0: 182.7, x1: 237.3, lineY: [298, 319.7, 346.3, 368], textX: [260, 261.7, 265, 266.7], textY: [306.3, 328, 351.3, 373], tealDash: 0.47 },
    series: [B_CO_WITH, B_X_WITH, B_CO_WITHOUT, B_X_WITHOUT],
  },
  {
    name: 'c', top: 970, h: 478, padTop: 8.3, bottom: 403, left: 67,
    xMin: -200, xMax: 200, yMin: -65, yMax: 25, yTicks: Y_TICKS_AC,
    yTitle: [26, 217], xTitle: [319, 444], caption: '(c)', capPos: [329, 468.5],
    legend: { box: [177.7, 294, 488.7, 390], x0: 188.3, x1: 245, lineY: [306.7, 328.3, 355, 376.7], textX: [266.7, 268.3, 271.7, 273.3], textY: [315, 336.7, 359.3, 381.7], tealDash: 0.35 },
    series: [C_CO_WITH, C_X_WITH, C_CO_WITHOUT, C_X_WITHOUT],
  },
];

function makeDecor(cfg: Cfg) {
  return {
    id: 'decor_' + cfg.name,
    beforeDatasetsDraw(chart: any) {
      const { ctx, chartArea: a } = chart;
      const xs = chart.scales.x, ys = chart.scales.y;
      ctx.save();
      ctx.strokeStyle = '#1a1a1a';
      ctx.lineWidth = 1;
      ctx.setLineDash([1.4, 2.6]);
      ctx.beginPath();
      for (const v of X_TICKS) {
        const p = Math.round(xs.getPixelForValue(v)) + 0.5;
        ctx.moveTo(p, a.top); ctx.lineTo(p, a.bottom);
      }
      for (const v of cfg.yTicks) {
        const p = Math.round(ys.getPixelForValue(v)) + 0.5;
        ctx.moveTo(a.left, p); ctx.lineTo(a.right, p);
      }
      ctx.stroke();
      ctx.restore();
    },
    afterDatasetsDraw(chart: any) {
      const { ctx, chartArea: a } = chart;
      const xs = chart.scales.x, ys = chart.scales.y;
      const L = cfg.legend;
      ctx.save();
      // legend box
      ctx.fillStyle = '#ffffff';
      ctx.fillRect(L.box[0], L.box[1], L.box[2] - L.box[0], L.box[3] - L.box[1]);
      ctx.strokeStyle = '#000';
      ctx.lineWidth = 1.3;
      ctx.setLineDash([]);
      ctx.strokeRect(L.box[0], L.box[1], L.box[2] - L.box[0], L.box[3] - L.box[1]);
      const len = L.x1 - L.x0;
      const seg = (c: string, y: number, f0: number, f1: number) => {
        ctx.strokeStyle = c; ctx.lineWidth = 3; ctx.lineCap = 'butt';
        ctx.beginPath(); ctx.moveTo(L.x0 + f0 * len, y); ctx.lineTo(L.x0 + f1 * len, y); ctx.stroke();
      };
      const dot = (c: string, y: number, f: number) => {
        ctx.fillStyle = c; ctx.fillRect(L.x0 + f * len - 1.3, y - 1.3, 2.6, 2.6);
      };
      seg('#000', L.lineY[0], 0, 1);
      seg('#ff0000', L.lineY[1], 0, 0.46); dot('#ff0000', L.lineY[1], 0.675); seg('#ff0000', L.lineY[1], 0.82, 1);
      seg('#0000ff', L.lineY[2], 0, 0.35); seg('#0000ff', L.lineY[2], 0.56, 0.94);
      seg('#008080', L.lineY[3], 0, L.tealDash); dot('#008080', L.lineY[3], 0.53); dot('#008080', L.lineY[3], 0.79);
      ctx.fillStyle = '#111';
      ctx.font = '17px ' + SERIF;
      ctx.textAlign = 'left';
      ctx.textBaseline = 'alphabetic';
      LEGEND_LABELS.forEach((t, i) => ctx.fillText(t.trim(), L.textX[i], L.textY[i]));

      // axes
      ctx.lineCap = 'butt';
      ctx.strokeStyle = '#000';
      ctx.lineWidth = 1.3;
      ctx.beginPath(); ctx.moveTo(a.left, a.top); ctx.lineTo(a.right, a.top); ctx.stroke();
      ctx.strokeStyle = '#555';
      ctx.lineWidth = 2;
      ctx.beginPath(); ctx.moveTo(a.left, a.top); ctx.lineTo(a.left, a.bottom); ctx.stroke();
      ctx.strokeStyle = '#222';
      ctx.beginPath(); ctx.moveTo(a.left - 1, a.bottom); ctx.lineTo(a.right, a.bottom); ctx.stroke();
      // ticks
      ctx.lineWidth = 1.2;
      ctx.strokeStyle = '#333';
      ctx.beginPath();
      for (let v = cfg.yMin; v <= cfg.yMax; v += 5) {
        const p = Math.round(ys.getPixelForValue(v)) + 0.5;
        const major = v % 10 === 0;
        ctx.moveTo(a.left, p); ctx.lineTo(a.left + (major ? 8 : 5), p);
      }
      for (let v = -180; v <= 180; v += 22.5) {
        const p = Math.round(xs.getPixelForValue(v)) + 0.5;
        const major = v % 45 === 0;
        ctx.moveTo(p, a.bottom); ctx.lineTo(p, a.bottom - (major ? 7 : 5));
      }
      ctx.stroke();
      ctx.restore();
    },
    afterDraw(chart: any) {
      const { ctx } = chart;
      ctx.save();
      ctx.fillStyle = '#111';
      ctx.font = '19px ' + SERIF;
      ctx.textAlign = 'center';
      ctx.textBaseline = 'middle';
      ctx.fillText(X_TITLE, cfg.xTitle[0], cfg.xTitle[1]);
      ctx.fillText(cfg.caption, cfg.capPos[0], cfg.capPos[1]);
      ctx.translate(cfg.yTitle[0], cfg.yTitle[1]);
      ctx.rotate(-Math.PI / 2);
      ctx.fillText(Y_TITLE, 0, 0);
      ctx.restore();
    },
  };
}

function Panel({ cfg }: { cfg: Cfg }) {
  const ref = useRef<HTMLCanvasElement | null>(null);
  useEffect(() => {
    if (!ref.current) return;
    const chart = new Chart(ref.current, {
      type: 'line',
      data: {
        datasets: cfg.series.map((s, i) => ({
          label: LEGEND_LABELS[i],
          data: s.map(([x, y]) => ({ x, y })),
          borderColor: STYLES[i].color,
          borderWidth: STYLES[i].width,
          borderDash: STYLES[i].dash,
          borderJoinStyle: 'round' as const,
          pointRadius: 0,
          fill: false,
          tension: 0,
        })),
      },
      options: {
        responsive: false,
        animation: false,
        devicePixelRatio: 1,
        layout: { padding: { top: cfg.padTop, left: 0, right: 0, bottom: 0 } },
        plugins: { legend: { display: false }, tooltip: { enabled: false }, title: { display: false } },
        scales: {
          x: {
            type: 'linear', position: 'bottom', min: cfg.xMin, max: cfg.xMax,
            grid: { display: false, drawTicks: false },
            border: { display: false },
            afterBuildTicks: (s: any) => { s.ticks = X_TICKS.map((v) => ({ value: v })); },
            afterFit: (s: any) => { s.height = cfg.h - cfg.bottom; s.paddingLeft = 0; s.paddingRight = 0; },
            ticks: { padding: 9, color: '#111', font: { family: SERIF, size: 14 }, maxRotation: 0, autoSkip: false, callback: (v: any) => String(v) },
          },
          y: {
            type: 'linear', position: 'left', min: cfg.yMin, max: cfg.yMax,
            grid: { display: false, drawTicks: false },
            border: { display: false },
            afterBuildTicks: (s: any) => { s.ticks = cfg.yTicks.map((v) => ({ value: v })); },
            afterFit: (s: any) => { s.width = cfg.left; s.paddingTop = 0; s.paddingBottom = 0; },
            ticks: { padding: 5, color: '#111', font: { family: SERIF, size: 14 }, autoSkip: false, callback: (v: any) => String(v) },
          },
        },
      },
      plugins: [makeDecor(cfg)],
    } as any);
    return () => chart.destroy();
  }, [cfg]);
  return (
    <canvas
      ref={ref}
      width={596}
      height={cfg.h}
      style={{ position: 'absolute', left: 0, top: cfg.top, width: 596, height: cfg.h, display: 'block' }}
    />
  );
}

export default function App() {
  return (
    <div style={{ position: 'absolute', left: 0, top: 0, width: 596, height: 1448, background: '#fff', overflow: 'hidden' }}>
      {PANELS.map((p) => (
        <Panel key={p.name} cfg={p} />
      ))}
    </div>
  );
}
